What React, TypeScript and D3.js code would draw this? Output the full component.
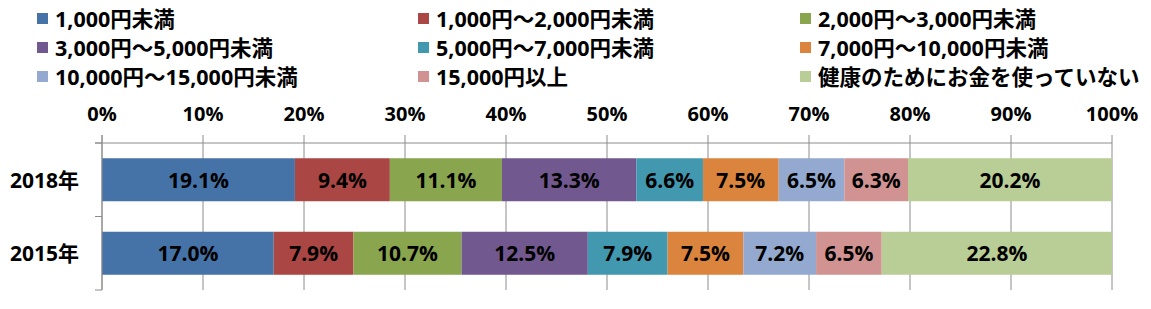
import React from "react";
import * as d3 from "d3";

const categories = ["2018年", "2015年"];
const seriesNames = [
  "1,000円未満",
  "1,000円～2,000円未満",
  "2,000円～3,000円未満",
  "3,000円～5,000円未満",
  "5,000円～7,000円未満",
  "7,000円～10,000円未満",
  "10,000円～15,000円未満",
  "15,000円以上",
  "健康のためにお金を使っていない",
];
const values2018 = [19.1, 9.4, 11.1, 13.3, 6.6, 7.5, 6.5, 6.3, 20.2];
const values2015 = [17.0, 7.9, 10.7, 12.5, 7.9, 7.5, 7.2, 6.5, 22.8];
const colors = [
  "#4572A7",
  "#AA4643",
  "#89A54E",
  "#71588F",
  "#4198AF",
  "#DB843D",
  "#93A9CF",
  "#D19392",
  "#B9CD96",
];
const tickValues = [0, 10, 20, 30, 40, 50, 60, 70, 80, 90, 100];

const W = 1151;
const H = 309;
const FONT = "'Open Sans', 'Noto Sans CJK JP', sans-serif";

export default function App() {
  const valuesByCat = [values2018, values2015];
  const x = d3.scaleLinear().domain([0, 100]).range([102, 1112]);
  const y = d3
    .scaleBand<string>()
    .domain(categories)
    .range([143, 290])
    .paddingInner(0.415)
    .paddingOuter(0.2075);

  const stacks = valuesByCat.map((vals) => {
    let acc = 0;
    return vals.map((v, i) => {
      const s = { x0: acc, x1: acc + v, v, i };
      acc += v;
      return s;
    });
  });

  const legendCols = [37, 418, 800];
  const legendRows = [18.5, 47.5, 76.5];
  const axisColor = "#8c8c8c";

  return (
    <svg
      width={W}
      height={H}
      style={{ position: "absolute", left: 0, top: 0, display: "block", background: "#fff" }}
      fontFamily={FONT}
    >
      {/* legend */}
      {seriesNames.map((name, i) => {
        const cx = legendCols[i % 3];
        const cy = legendRows[Math.floor(i / 3)];
        return (
          <g key={name}>
            <rect x={cx} y={cy - 5.5} width={11} height={11} fill={colors[i]} />
            <text
              x={cx + 18}
              y={cy}
              dominantBaseline="central"
              fontSize={21.5}
              fontWeight="bold"
              fill="#000"
            >
              {name}
            </text>
          </g>
        );
      })}

      {/* tick labels */}
      {tickValues.map((t) => (
        <text
          key={t}
          x={x(t)}
          y={113.5}
          textAnchor="middle"
          dominantBaseline="central"
          fontSize={20}
          fontWeight="bold"
          fill="#000"
        >
          {t}%
        </text>
      ))}

      {/* gridlines */}
      {tickValues.map((t) => (
        <line
          key={"g" + t}
          x1={x(t)}
          x2={x(t)}
          y1={135}
          y2={290}
          stroke={axisColor}
          strokeWidth={1}
        />
      ))}
      {/* top axis line */}
      <line x1={95} x2={x(100)} y1={143} y2={143} stroke={axisColor} strokeWidth={1} />
      {/* category ticks */}
      {[143, 216.5, 290].map((ty) => (
        <line key={"ct" + ty} x1={95} x2={102} y1={ty} y2={ty} stroke={axisColor} strokeWidth={1} />
      ))}

      {/* bars */}
      {categories.map((cat, ci) => (
        <g key={cat}>
          {stacks[ci].map((s) => (
            <rect
              key={s.i}
              x={x(s.x0)}
              y={y(cat)!}
              width={x(s.x1) - x(s.x0)}
              height={y.bandwidth()}
              fill={colors[s.i]}
            />
          ))}
          {stacks[ci].map((s) => (
            <text
              key={"l" + s.i}
              x={(x(s.x0) + x(s.x1)) / 2}
              y={y(cat)! + y.bandwidth() / 2}
              textAnchor="middle"
              dominantBaseline="central"
              fontSize={21}
              fontWeight="bold"
              fill="#000"
            >
              {s.v.toFixed(1)}%
            </text>
          ))}
          <text
            x={10}
            y={y(cat)! + y.bandwidth() / 2}
            dominantBaseline="central"
            fontSize={21}
            fontWeight="bold"
            fill="#000"
          >
            {cat}
          </text>
        </g>
      ))}
      {/* vertical axis line */}
      <line x1={102} x2={102} y1={135} y2={290} stroke={axisColor} strokeWidth={1} />
    </svg>
  );
}
